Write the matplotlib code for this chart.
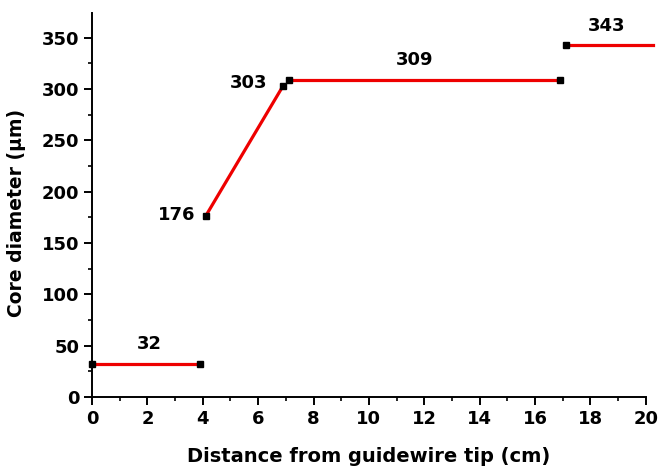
import numpy as np
import matplotlib
matplotlib.use("Agg")
import matplotlib.pyplot as plt
from matplotlib.ticker import MultipleLocator

plt.rcParams['font.family'] = ['DejaVu Sans']
plt.rcParams['font.weight'] = 'bold'

# segments of core diameter vs distance from tip
seg_x = [[0.0, 3.9], [4.1, 6.9], [7.1, 16.9], [17.1, 20.25]]
seg_y = [[32, 32], [176, 303], [309, 309], [343, 343]]
# marker points (last segment end has no marker)
mark_x = [0.0, 3.9, 4.1, 6.9, 7.1, 16.9, 17.1]
mark_y = [32, 32, 176, 303, 309, 309, 343]
# value labels
lab_text = ['32', '176', '303', '309', '343']
lab_x = [2.06, 3.06, 5.67, 11.66, 18.6]
lab_y = [52, 177, 306, 328, 361]

fig = plt.figure(figsize=(6.59, 4.69), dpi=100)
ax = fig.add_axes([0.1396, 0.1535, 0.8404, 0.8188])

for xs, ys in zip(seg_x, seg_y):
    ax.plot(xs, ys, color='#ee0000', lw=2.3, clip_on=False, zorder=2)
ax.plot(mark_x, mark_y, ls='none', marker='s', ms=5, color='black',
        clip_on=False, zorder=3)

for t, x, y in zip(lab_text, lab_x, lab_y):
    ax.text(x, y, t, ha='center', va='center', fontsize=13, fontweight='bold')

ax.set_xlim(0, 20)
ax.set_ylim(0, 374)
ax.xaxis.set_major_locator(MultipleLocator(2))
ax.xaxis.set_minor_locator(MultipleLocator(1))
ax.yaxis.set_major_locator(MultipleLocator(50))
ax.yaxis.set_minor_locator(MultipleLocator(25))

for s in ['top', 'right']:
    ax.spines[s].set_visible(False)
for s in ['left', 'bottom']:
    ax.spines[s].set_linewidth(1.4)

ax.tick_params(which='major', direction='out', length=6, width=1.4,
               labelsize=13, pad=3)
ax.tick_params(which='minor', direction='out', length=3, width=1.2)
for lbl in ax.get_xticklabels() + ax.get_yticklabels():
    lbl.set_fontweight('bold')

ax.set_xlabel('Distance from guidewire tip (cm)', fontsize=14,
              fontweight='bold', labelpad=14)
ax.set_ylabel('Core diameter (\u03bcm)', fontsize=13.5, fontweight='bold',
              labelpad=9)
ax.yaxis.set_label_coords(-0.12, 0.48)

fig.savefig('out.png', dpi=100)
